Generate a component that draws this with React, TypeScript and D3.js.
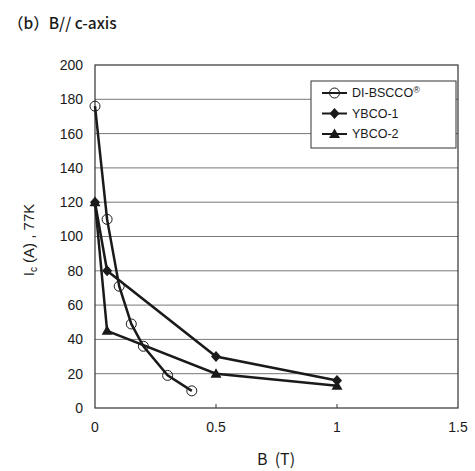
import React, { useRef, useEffect } from 'react';
import * as d3 from 'd3';

// data
const bsccoB = [0, 0.05, 0.1, 0.15, 0.2, 0.3, 0.4];
const bsccoIc = [176, 110, 71, 49, 36, 19, 10];
const ybco1B = [0, 0.05, 0.5, 1];
const ybco1Ic = [120, 80, 30, 16];
const ybco2B = [0, 0.05, 0.5, 1];
const ybco2Ic = [120, 45, 20, 13];
const xTicks = [0, 0.5, 1, 1.5];
const yTicks = [0, 20, 40, 60, 80, 100, 120, 140, 160, 180, 200];
const seriesNames = ['DI-BSCCO', 'YBCO-1', 'YBCO-2'];

const App = () => {
    const ref = useRef<SVGSVGElement>(null);

    useEffect(() => {
        const svg = d3.select(ref.current);
        svg.selectAll('*').remove();

        const margin = { top: 65, right: 17, bottom: 63, left: 95 };
        const W = 475, H = 471;
        const x = d3.scaleLinear().domain([0, 1.5]).range([margin.left, W - margin.right]);
        const y = d3.scaleLinear().domain([0, 200]).range([H - margin.bottom, margin.top]);
        const tickFont = '"Liberation Sans", Arial, sans-serif';
        const cjk = '"Noto Sans CJK JP", "Noto Sans", sans-serif';
        const ink = '#1a1a1a';

        // title
        svg.append('text')
            .attr('x', 8).attr('y', 29)
            .attr('font-family', cjk).attr('font-size', 15.5)
            .attr('font-weight', 500)
            .attr('fill', ink)
            .text('（b）B// c-axis');

        // horizontal grid
        svg.append('g').selectAll('line')
            .data(yTicks.filter(d => d > 0 && d < 200))
            .join('line')
            .attr('x1', x(0)).attr('x2', x(1.5))
            .attr('y1', d => y(d)).attr('y2', d => y(d))
            .attr('stroke', '#777').attr('stroke-width', 1);

        // frame
        svg.append('rect')
            .attr('x', x(0)).attr('y', y(200))
            .attr('width', x(1.5) - x(0)).attr('height', y(0) - y(200))
            .attr('fill', 'none').attr('stroke', '#333').attr('stroke-width', 1.2);

        // x inner ticks
        svg.append('g').selectAll('line')
            .data(xTicks.slice(1, -1))
            .join('line')
            .attr('x1', d => x(d)).attr('x2', d => x(d))
            .attr('y1', y(0)).attr('y2', y(0) - 4)
            .attr('stroke', '#333');

        // tick labels
        svg.append('g').selectAll('text')
            .data(yTicks)
            .join('text')
            .attr('x', x(0) - 12).attr('y', d => y(d))
            .attr('dy', '0.35em')
            .attr('text-anchor', 'end')
            .attr('font-family', tickFont).attr('font-size', 14)
            .attr('fill', ink)
            .text(d => d);

        svg.append('g').selectAll('text')
            .data(xTicks)
            .join('text')
            .attr('x', d => x(d)).attr('y', y(0) + 24)
            .attr('text-anchor', 'middle')
            .attr('font-family', tickFont).attr('font-size', 14)
            .attr('fill', ink)
            .text(d => d);

        // axis titles
        svg.append('text')
            .attr('x', 276).attr('y', 465)
            .attr('text-anchor', 'middle')
            .attr('font-family', cjk).attr('font-size', 16)
            .attr('fill', ink)
            .attr('xml:space', 'preserve')
            .text('B  (T)');

        const yl = svg.append('text')
            .attr('transform', `translate(34,240) rotate(-90)`)
            .attr('text-anchor', 'middle')
            .attr('font-family', tickFont).attr('font-size', 15)
            .attr('fill', ink);
        yl.append('tspan').text('I');
        yl.append('tspan').attr('font-size', 10).attr('dy', 3).text('c');
        yl.append('tspan').attr('dy', -3).attr('xml:space', 'preserve').text(' (A) , 77K');

        const line = d3.line<[number, number]>().x(d => x(d[0])).y(d => y(d[1]));
        const series = [
            { pts: bsccoB.map((b, i) => [b, bsccoIc[i]] as [number, number]), sym: 'circle' },
            { pts: ybco1B.map((b, i) => [b, ybco1Ic[i]] as [number, number]), sym: 'diamond' },
            { pts: ybco2B.map((b, i) => [b, ybco2Ic[i]] as [number, number]), sym: 'triangle' },
        ];

        const drawMarker = (g: any, sym: string, cx: number, cy: number) => {
            if (sym === 'circle') {
                g.append('circle').attr('cx', cx).attr('cy', cy).attr('r', 5)
                    .attr('fill', 'none').attr('stroke', ink).attr('stroke-width', 1);
            } else if (sym === 'diamond') {
                g.append('path').attr('d', `M${cx},${cy - 5.5}L${cx + 5},${cy}L${cx},${cy + 5.5}L${cx - 5},${cy}Z`)
                    .attr('fill', ink);
            } else {
                g.append('path').attr('d', `M${cx},${cy - 5.5}L${cx + 5.5},${cy + 4}L${cx - 5.5},${cy + 4}Z`)
                    .attr('fill', ink);
            }
        };

        // draw in reverse so the BSCCO line sits on top
        [...series].reverse().forEach(s => {
            svg.append('path')
                .datum(s.pts)
                .attr('d', line)
                .attr('fill', 'none')
                .attr('stroke', ink)
                .attr('stroke-width', 2.5);
            const g = svg.append('g');
            s.pts.forEach(p => drawMarker(g, s.sym, x(p[0]), y(p[1])));
        });

        // legend
        const lg = svg.append('g');
        lg.append('rect')
            .attr('x', 311).attr('y', 81).attr('width', 145).attr('height', 67)
            .attr('fill', 'white').attr('stroke', '#333').attr('stroke-width', 1);
        seriesNames.forEach((name, i) => {
            const ly = 93 + i * 20.5;
            lg.append('line')
                .attr('x1', 322).attr('x2', 347).attr('y1', ly).attr('y2', ly)
                .attr('stroke', ink).attr('stroke-width', 2);
            drawMarker(lg, series[i].sym, 334.5, ly);
            const t = lg.append('text')
                .attr('x', 352).attr('y', ly).attr('dy', '0.35em')
                .attr('font-family', tickFont).attr('font-size', 12.5)
                .attr('fill', ink)
                .text(name);
            if (i === 0) {
                t.append('tspan').attr('font-size', 9).attr('dy', -4).text('®');
            }
        });
    }, []);

    return <svg ref={ref} width={475} height={471} style={{ position: 'absolute', left: 0, top: 0, background: 'white' }} />;
};

export default App;
